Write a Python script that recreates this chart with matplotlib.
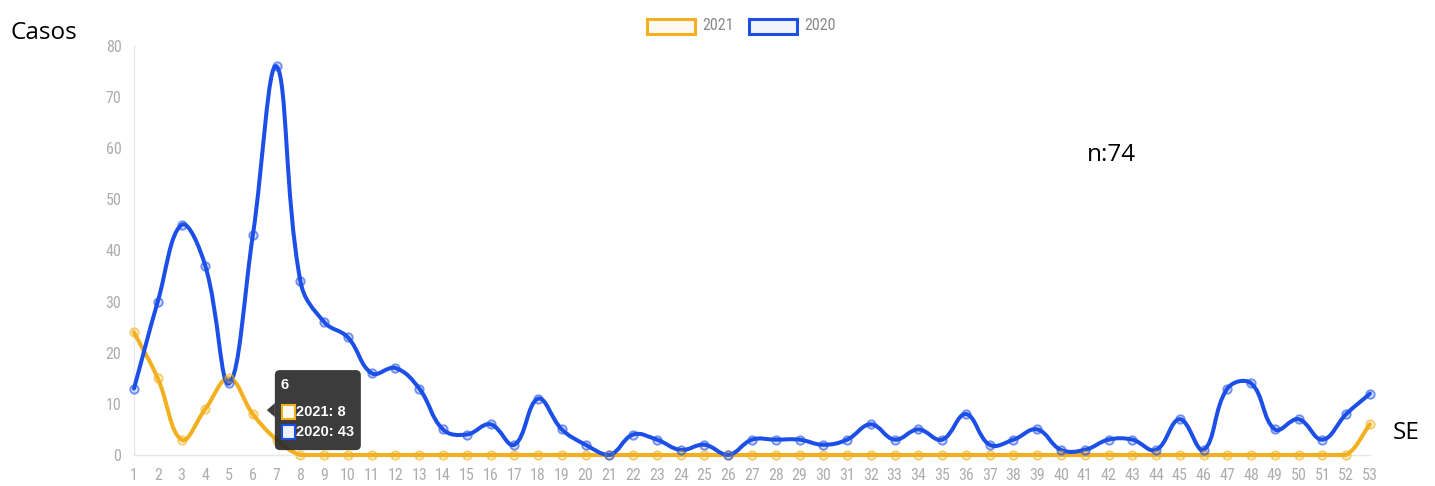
import numpy as np
import matplotlib
matplotlib.use("Agg")
import matplotlib.pyplot as plt
from matplotlib.path import Path
from matplotlib.patches import PathPatch, FancyBboxPatch, Rectangle, Polygon
from matplotlib import font_manager

# datos por semana epidemiologica
semanas = list(range(1, 54))
casos_2021 = [24, 15, 3, 9, 15, 8, 3] + [0] * 45 + [6]
casos_2020 = [13, 30, 45, 37, 14, 43, 76, 34, 26, 23, 16, 17, 13, 5, 4, 6, 2, 11, 5, 2,
              0, 4, 3, 1, 2, 0, 3, 3, 3, 2, 3, 6, 3, 5, 3, 8, 2, 3, 5, 1,
              1, 3, 3, 1, 7, 1, 13, 14, 5, 7, 3, 8, 12]
series = ["2021", "2020"]
colores = {"2021": "#f2b01e", "2020": "#1c4fe8"}

W, H = 1435, 486
gris = "#adadad"


def fuente_estrecha():
    """Busca una fuente condensada instalada; si no hay, usa Roboto."""
    archivos = [f.fname for f in font_manager.fontManager.ttflist]
    for clave in ["LiberationSansNarrow-Regular", "RobotoCondensed-Regular",
                  "RobotoCondensed", "DejaVuSansCondensed.ttf", "OpenSans_Condensed-Regular",
                  "OpenSansCondensed"]:
        for a in archivos:
            if clave in a.replace(" ", ""):
                return font_manager.FontProperties(fname=a), 11.5
    return font_manager.FontProperties(family="Roboto"), 10


prop_ejes, tam_ejes = fuente_estrecha()
prop_ejes.set_size(tam_ejes)


def curva_spline(ax, xs, ys, tension=0.4, ymin=0, ymax=80):
    """Curva tipo Chart.js (bezier cubica) en coordenadas de datos."""
    pts = ax.transData.transform(np.column_stack([xs, ys]))
    n = len(pts)
    ctrl_prev = pts.copy()
    ctrl_next = pts.copy()
    for i in range(n):
        p0 = pts[max(i - 1, 0)]
        p1 = pts[i]
        p2 = pts[min(i + 1, n - 1)]
        d01 = np.hypot(*(p1 - p0))
        d12 = np.hypot(*(p2 - p1))
        tot = d01 + d12
        s01 = d01 / tot if tot else 0
        s12 = d12 / tot if tot else 0
        ctrl_prev[i] = p1 - tension * s01 * (p2 - p0)
        ctrl_next[i] = p1 + tension * s12 * (p2 - p0)
    inv = ax.transData.inverted()
    cp = inv.transform(ctrl_prev)
    cn = inv.transform(ctrl_next)
    cp[:, 1] = np.clip(cp[:, 1], ymin, ymax)
    cn[:, 1] = np.clip(cn[:, 1], ymin, ymax)
    verts = [(xs[0], ys[0])]
    codes = [Path.MOVETO]
    for i in range(1, n):
        verts += [tuple(cn[i - 1]), tuple(cp[i]), (xs[i], ys[i])]
        codes += [Path.CURVE4] * 3
    return Path(verts, codes)


fig = plt.figure(figsize=(W / 100, H / 100), dpi=100)
ax = fig.add_axes([134 / W, 1 - 455 / H, (1370 - 134) / W, (455 - 46) / H])
ax.set_xlim(1, 53)
ax.set_ylim(0, 80)

datos = {"2021": casos_2021, "2020": casos_2020}
for s in series:
    c = colores[s]
    path = curva_spline(ax, np.array(semanas, float), np.array(datos[s], float))
    ax.add_patch(PathPatch(path, facecolor="none", edgecolor=c, lw=2.9,
                           capstyle="round", joinstyle="round", zorder=3, clip_on=False))
    ax.plot(semanas, datos[s], ls="none", marker="o", ms=6,
            mfc=matplotlib.colors.to_rgba(c, 0.15), mec=matplotlib.colors.to_rgba(c, 0.6),
            mew=1.4, zorder=4, clip_on=False)

ax.set_xticks(semanas)
ax.set_yticks(range(0, 81, 10))
ax.tick_params(length=0, colors=gris)
ax.tick_params(axis="x", pad=9)
ax.tick_params(axis="y", pad=9)
for lab in ax.get_xticklabels() + ax.get_yticklabels():
    lab.set_fontproperties(prop_ejes)
for sp in ["top", "right"]:
    ax.spines[sp].set_visible(False)
for sp in ["left", "bottom"]:
    ax.spines[sp].set_color("#e6e6e6")
    ax.spines[sp].set_linewidth(1)

# textos sueltos
fig.text(10 / W, 1 - 33 / H, "Casos", fontsize=17.5, family="Open Sans", va="center")
fig.text(1087 / W, 1 - 155 / H, "n:74", fontsize=17.5, family="Open Sans", va="center")
fig.text(1393 / W, 1 - 433 / H, "SE", fontsize=17.5, family="Open Sans", va="center")

# leyenda arriba
for s, x0 in [("2021", 647), ("2020", 749)]:
    c = colores[s]
    fig.patches.append(Rectangle((x0, H - 34), 48, 15, transform=None,
                                 facecolor=matplotlib.colors.to_rgba(c, 0.06),
                                 edgecolor=c, lw=2.2))
    fig.text((x0 + 55) / W, 1 - 26 / H, s, color="#8a8a8a",
             fontproperties=prop_ejes, va="center")

# tooltip de la semana 6
fig.canvas.draw()
px, py = ax.transData.transform((6, casos_2021[5]))
caja = FancyBboxPatch((px + 22, py - 36), 86, 80, boxstyle="round,pad=0,rounding_size=5",
                      transform=None, facecolor="#2b2b2b", edgecolor="none", alpha=0.92, zorder=10)
fig.patches.append(caja)
fig.patches.append(Polygon([(px + 14, py + 4), (px + 22, py - 3), (px + 22, py + 11)],
                           closed=True, transform=None, facecolor="#2b2b2b",
                           edgecolor="none", alpha=0.92, zorder=10))
fig.text((px + 28) / W, (py + 29) / H, "6", color="white", fontsize=10.5, weight="bold",
         family="Liberation Sans", va="center", zorder=12)
for k, s in enumerate(series):
    yy = py + 2 - 20 * k
    fig.patches.append(Rectangle((px + 29, yy - 7), 13, 14, transform=None,
                                 facecolor="#fdfaf0" if s == "2021" else "#eef2fd",
                                 edgecolor=colores[s], lw=1.5, zorder=11))
    fig.text((px + 43) / W, yy / H, f"{s}: {datos[s][5]}", color="white", fontsize=10.5,
             weight="bold", family="Liberation Sans", va="center", zorder=12)

fig.savefig("out.png", dpi=100)
